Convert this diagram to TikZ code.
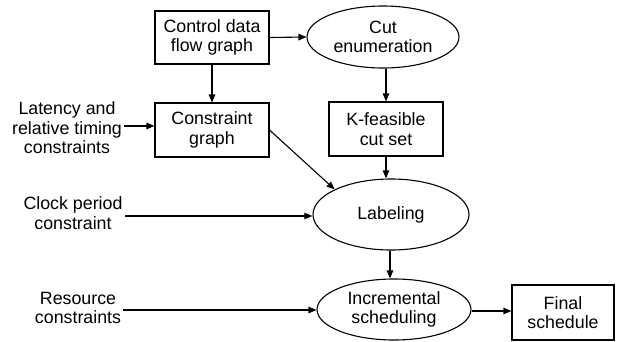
\documentclass[tikz,border=0pt]{standalone}
\usepackage{fontspec}
\setmainfont{Liberation Sans}
\usetikzlibrary{shapes.geometric,arrows.meta}
\begin{document}
\begin{tikzpicture}[x=1pt,y=-1pt,
  every node/.style={font=\fontsize{17.8}{19.5}\selectfont, align=center, inner sep=0pt},
  boxnode/.style={draw, line width=1.1pt, rectangle},
  ellnode/.style={draw, line width=1.1pt, ellipse},
  txtnode/.style={inner sep=2pt},
  conn/.style={line width=1.1pt, -{Triangle[length=8pt,width=6.5pt]}}]
\useasboundingbox (0,0) rectangle (619,341);
\node[boxnode, minimum width=114pt, minimum height=53pt] (cdfg) at (212,37.5) {Control data\\flow graph};
\node[boxnode, minimum width=114pt, minimum height=54pt] (cg) at (212,130) {Constraint\\graph};
\node[ellnode, minimum width=152pt, minimum height=62pt] (cut) at (383,37) {Cut\\enumeration};
\node[boxnode, minimum width=114pt, minimum height=54pt] (kf) at (386,129) {K-feasible\\cut set};
\node[ellnode, minimum width=156pt, minimum height=71pt] (lab) at (391,214.5) {Labeling};
\node[ellnode, minimum width=154pt, minimum height=61pt] (inc) at (394,309.5) {Incremental\\scheduling};
\node[boxnode, minimum width=102pt, minimum height=55pt] (fin) at (563,312.5) {Final\\schedule};
\node[txtnode] (lat) at (67,128) {Latency and\\relative timing\\constraints};
\node[txtnode] (clk) at (73,213) {Clock period\\constraint};
\node[txtnode] (res) at (78,308) {Resource\\constraints};
\draw[conn] (cdfg.east |- 0,37.5) -- (cut.west);
\draw[conn] (cdfg.south) -- (cg.north);
\draw[conn] (cut.south -| kf.north) -- (kf.north);
\draw[conn] (kf.south) -- (kf.south |- lab.north);
\draw[conn] (cg.east) -- (lab.156);
\draw[conn] (lat.east |- 0,126) -- (cg.west |- 0,126);
\draw[conn] (clk.east |- 0,216) -- (lab.west |- 0,216);
\draw[conn] (res.east |- 0,310) -- (inc.west |- 0,310);
\draw[conn] (lab.south -| 390,0) -- (inc.north -| 390,0);
\draw[conn] (inc.east |- 0,311) -- (fin.west |- 0,311);
\end{tikzpicture}
\end{document}
